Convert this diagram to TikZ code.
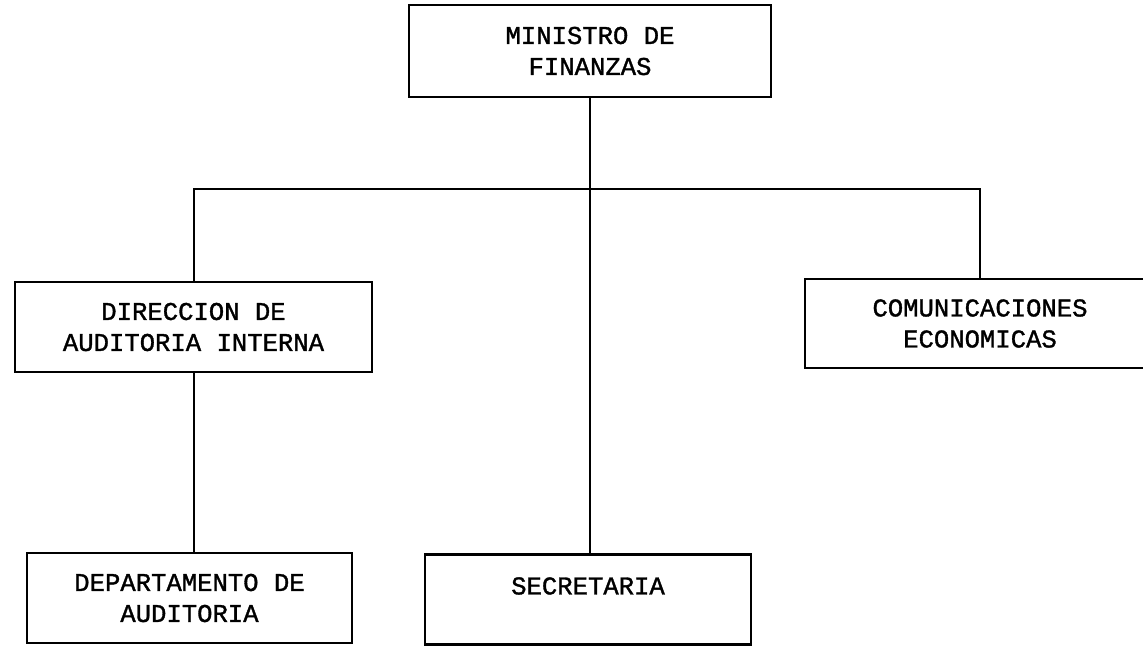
\documentclass[tikz,border=0pt]{standalone}
\usepackage{fontspec}
\newfontfamily\maquina[FakeBold=1.3]{Liberation Mono}

\begin{document}
\begin{tikzpicture}[x=0.5pt, y=-0.5pt,
  caja/.style={draw, line width=1.4pt, align=center, inner sep=0pt,
    font=\maquina\fontsize{12.8}{15.5}\selectfont},
  linea/.style={line width=1pt}]

% Page size and cut at the edges
\useasboundingbox (0,0) rectangle (1143,645);
\clip (0,0) rectangle (1143,645);

% Draw the boxes
\node [caja, minimum width=181pt, minimum height=46pt] (ministro) at (590,51) {MINISTRO DE\\FINANZAS};
\node [caja, minimum width=178.5pt, minimum height=45pt] (direccion) at (193.5,327) {DIRECCION DE\\AUDITORIA INTERNA};
\node [caja, minimum width=175pt, minimum height=44.5pt] (comunicaciones) at (980,323.5) {COMUNICACIONES\\ECONOMICAS};
\node [caja, minimum width=162.5pt, minimum height=45pt] (departamento) at (189.5,598) {DEPARTAMENTO DE\\AUDITORIA};
\node [caja, minimum width=163pt, anchor=north, text height=20pt, text depth=25pt] (secretaria) at (588,553) {SECRETARIA};

% Draw the lines between them
\coordinate (bus) at (590,189);
\draw [linea] (ministro.south) -- (ministro.south |- secretaria.north);
\draw [linea] (direccion.north) |- (bus) -| (comunicaciones.north);
\draw [linea] (direccion.south) -- (direccion.south |- departamento.north);

\end{tikzpicture}
\end{document}
